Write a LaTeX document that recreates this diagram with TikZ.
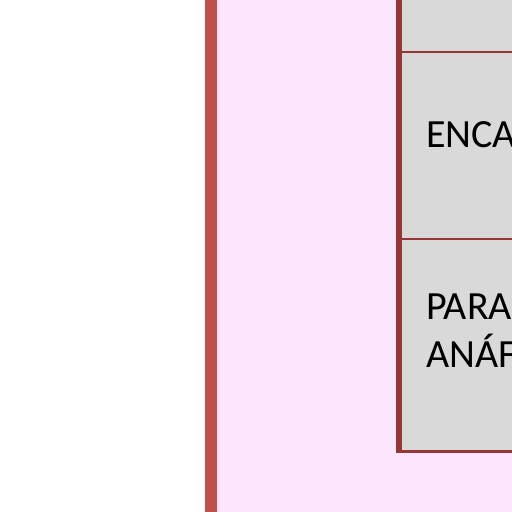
\documentclass[tikz,border=0pt]{standalone}
\usepackage{fontspec}
\setmainfont{Carlito}
\usetikzlibrary{positioning}
\definecolor{panelpink}{RGB}{253,229,253}
\definecolor{barred}{RGB}{192,80,77}
\definecolor{edgered}{RGB}{149,55,53}
\definecolor{cellgrey}{RGB}{217,217,217}

\begin{document}
\begin{tikzpicture}[x=1pt,y=-1pt,node distance=0pt,
  cell/.style={rectangle, draw=edgered, fill=cellgrey, line width=1.5pt,
    minimum width=140pt, inner sep=0pt, outer sep=0pt},
  celltext/.style={anchor=base west, inner sep=0pt, text=black,
    font=\fontsize{40}{48}\selectfont}]
\useasboundingbox (0,0) rectangle (512,512);

    % background panel and side bar
    \fill[panelpink] (217,0) rectangle (512,512);
    \fill[barred] (205,0) rectangle (217,512);
    \clip (0,0) rectangle (512,512);

    \node[cell, minimum height=80pt, anchor=south west] (topcell) at (399,52) {};
    \node[cell, minimum height=187pt, below=of topcell] (midcell) {};
    \node[cell, minimum height=212pt, below=of midcell] (lowcell) {};
    \draw[edgered, line width=3pt] (lowcell.south west) -- (lowcell.south east);
    \draw[edgered, line width=6pt] (topcell.north west) -- ([yshift=-1.5pt]lowcell.south west);

    \node[celltext] (encText) at (426,147) {ENCA};
    \node[celltext] (paraText) at (426,319) {PARA};
    \node[celltext] (anafText) at ([yshift=-48pt]paraText.base west) {ANÁF};

\end{tikzpicture}
\end{document}
